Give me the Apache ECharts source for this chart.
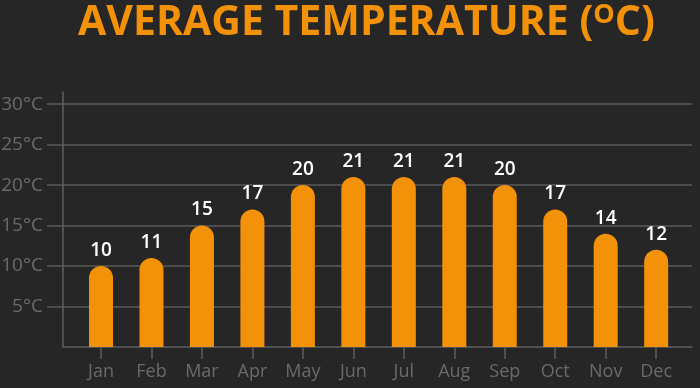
<!DOCTYPE html>
<html><head><meta charset="utf-8">
<script src="https://cdn.jsdelivr.net/npm/echarts@6/dist/echarts.min.js"></script>
<style>html,body{margin:0;padding:0;background:#262626;}#c{width:700px;height:388px;}</style>
</head><body><div id="c"></div>
<script>
const months = ['Jan','Feb','Mar','Apr','May','Jun','Jul','Aug','Sep','Oct','Nov','Dec'];
const temps = [10,11,15,17,20,21,21,21,20,17,14,12];
const yTicks = [5,10,15,20,25,30];
const monthIdx = months.map((m,i)=>i);

const chart = echarts.init(document.getElementById('c'), null, {renderer:'canvas'});
chart.setOption({
  backgroundColor:'#262626',
  animation:false,
  title:{
    text:'AVERAGE TEMPERATURE ({s|O}C)',
    left:78, top:2, padding:0,
    textStyle:{
      color:'#f39208', fontFamily:'Open Sans', fontWeight:'bold', fontSize:41,
      rich:{ s:{ color:'#f39208', fontFamily:'Open Sans', fontWeight:'bold', fontSize:27, verticalAlign:'top', padding:[0,0,16,0] } }
    }
  },
  grid:{ left:63, right:8, top:92, bottom:41, outerBoundsMode:'none', containLabel:false },
  xAxis:{
    type:'value', min:-0.753, max:11.71,
    axisLine:{ show:true, onZero:false, lineStyle:{ color:'#5e5e5e', width:1.5 } },
    axisTick:{ show:true, customValues:monthIdx, length:12, lineStyle:{ color:'#5e5e5e', width:1.5 } },
    axisLabel:{ customValues:monthIdx, formatter:v=>months[v], color:'#6a6a6a', fontFamily:'Open Sans', fontSize:18, margin:16 },
    splitLine:{ show:false }
  },
  yAxis:{
    type:'value', min:0, max:31.5,
    axisLine:{ show:true, onZero:false, lineStyle:{ color:'#5e5e5e', width:1.5 } },
    axisTick:{ show:true, customValues:yTicks, length:16, lineStyle:{ color:'#5a5a5a', width:1.5 } },
    axisLabel:{ customValues:yTicks, formatter:v=>v+'°C', color:'#6a6a6a', fontFamily:'Open Sans', fontSize:19, margin:20 },
    splitLine:{ show:true, lineStyle:{ color:'#5a5a5a', width:1.5 } }
  },
  series:[{
    type:'bar',
    data: temps.map((t,i)=>[monthIdx[i], t]),
    barWidth:24,
    itemStyle:{ color:'#f39208', borderRadius:[12,12,0,0] },
    label:{ show:true, position:'top', distance:6, color:'#ffffff', fontFamily:'Open Sans', fontWeight:600, fontSize:19 }
  }]
});
</script></body></html>
